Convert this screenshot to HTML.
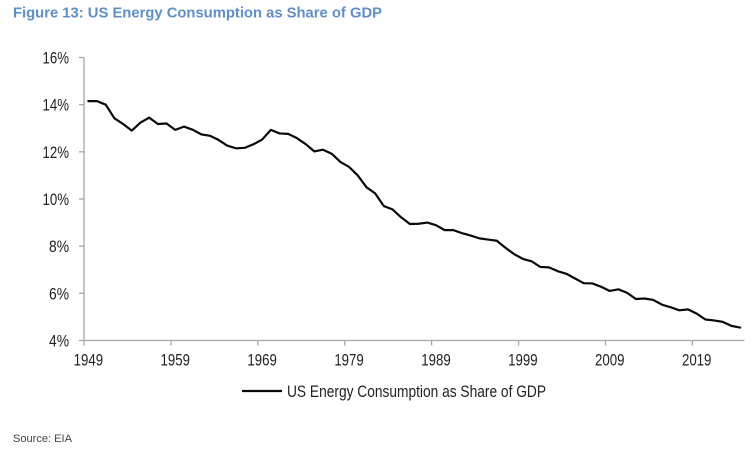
<!DOCTYPE html>
<html lang="en">
<head>
<meta charset="utf-8">
<title>US Energy Consumption as Share of GDP</title>
<style>
  html, body { margin: 0; padding: 0; background: #fff; }
  body { width: 753px; height: 449px; overflow: hidden; }
  svg { display: block; font-family: "Liberation Sans", Arial, sans-serif; }
</style>
</head>
<body>
<svg id="chart" width="753" height="449" viewBox="0 0 753 449" xmlns="http://www.w3.org/2000/svg">
  <rect width="753" height="449" fill="#ffffff"></rect>
  <text x="13" y="17.5" font-size="15" font-weight="bold" fill="#5f8ec8" textLength="369" lengthAdjust="spacingAndGlyphs">Figure 13: US Energy Consumption as Share of GDP</text>
  <g id="axes"></g>
  <path id="series" fill="none" stroke="#0a0a0a" stroke-width="2.2" stroke-linejoin="round" stroke-linecap="round"></path>
  <line x1="242" y1="391" x2="282" y2="391" stroke="#0a0a0a" stroke-width="2.2"></line>
  <text x="287" y="397" font-size="17" fill="#222222" textLength="259" lengthAdjust="spacingAndGlyphs">US Energy Consumption as Share of GDP</text>
  <text x="13" y="442" font-size="11" fill="#444444" textLength="59" lengthAdjust="spacingAndGlyphs">Source: EIA</text>
</svg>
<script>
const firstYear = 1949;
const values = [
  14.15, 14.15, 14.0, 13.42, 13.18, 12.9, 13.24, 13.45, 13.18, 13.2,
  12.93, 13.07, 12.94, 12.74, 12.68, 12.5, 12.26, 12.15, 12.17, 12.32,
  12.52, 12.93, 12.78, 12.76, 12.58, 12.33, 12.02, 12.09, 11.92, 11.57,
  11.36, 11.0, 10.5, 10.24, 9.7, 9.56, 9.22, 8.94, 8.95, 9.0,
  8.89, 8.68, 8.68, 8.55, 8.45, 8.33, 8.28, 8.23, 7.93, 7.66,
  7.46, 7.36, 7.12, 7.1, 6.94, 6.83, 6.63, 6.43, 6.42, 6.28,
  6.1, 6.17, 6.02, 5.76, 5.78, 5.72, 5.52, 5.41, 5.28, 5.32,
  5.14, 4.89, 4.85, 4.79, 4.62, 4.55
];
const yTicks = [4, 6, 8, 10, 12, 14, 16];
const xTickLabels = ["1949", "1959", "1969", "1979", "1989", "1999", "2009", "2019"];

const plotLeft = 84, plotRight = 744.5, plotTop = 57.5, plotBottom = 340.5;
const yMin = 4, yMax = 16;
const bandWidth = (plotRight - plotLeft) / values.length;
const yScale = v => plotBottom - (v - yMin) / (yMax - yMin) * (plotBottom - plotTop);
const bandLeft = i => plotLeft + i * bandWidth;
const xScale = i => bandLeft(i) + bandWidth / 2;

const NS = "http://www.w3.org/2000/svg";
const axes = document.getElementById("axes");
const axisColor = "#a6a6a6";

function addLine(x1, y1, x2, y2, name) {
  const el = document.createElementNS(NS, "line");
  el.setAttribute("x1", x1);
  el.setAttribute("y1", y1);
  el.setAttribute("x2", x2);
  el.setAttribute("y2", y2);
  el.setAttribute("stroke", axisColor);
  el.setAttribute("stroke-width", "1.3");
  
  
  axes.appendChild(el);
}

function addLabel(x, y, anchor, content, width, name) {
  const el = document.createElementNS(NS, "text");
  el.setAttribute("x", x);
  el.setAttribute("y", y);
  el.setAttribute("text-anchor", anchor);
  el.setAttribute("font-size", "17");
  el.setAttribute("fill", "#222222");
  el.setAttribute("textLength", width);
  el.setAttribute("lengthAdjust", "spacingAndGlyphs");
  
  
  el.textContent = content;
  axes.appendChild(el);
}

addLine(plotLeft, plotTop, plotLeft, plotBottom, "y-axis-line");
addLine(plotLeft, plotBottom, plotRight, plotBottom, "x-axis-line");

yTicks.forEach(t => {
  const y = yScale(t);
  addLine(plotLeft - 5, y, plotLeft, y, "y-tick-" + t);
  const label = t + "%";
  addLabel(69, y + 6, "end", label, t >= 10 ? 26.5 : 20, "y-tick-label-" + t);
});

xTickLabels.forEach(label => {
  const i = Number(label) - firstYear;
  const x = bandLeft(i);
  addLine(x, plotBottom, x, plotBottom + 5, "x-tick-" + label);
  addLabel(xScale(i), plotBottom + 25, "middle", label, 29.5, "x-tick-label-" + label);
});

document.getElementById("series").setAttribute(
  "d",
  values.map((v, i) => (i ? "L" : "M") + xScale(i).toFixed(2) + " " + yScale(v).toFixed(2)).join(" ")
);
</script>
</body>
</html>
